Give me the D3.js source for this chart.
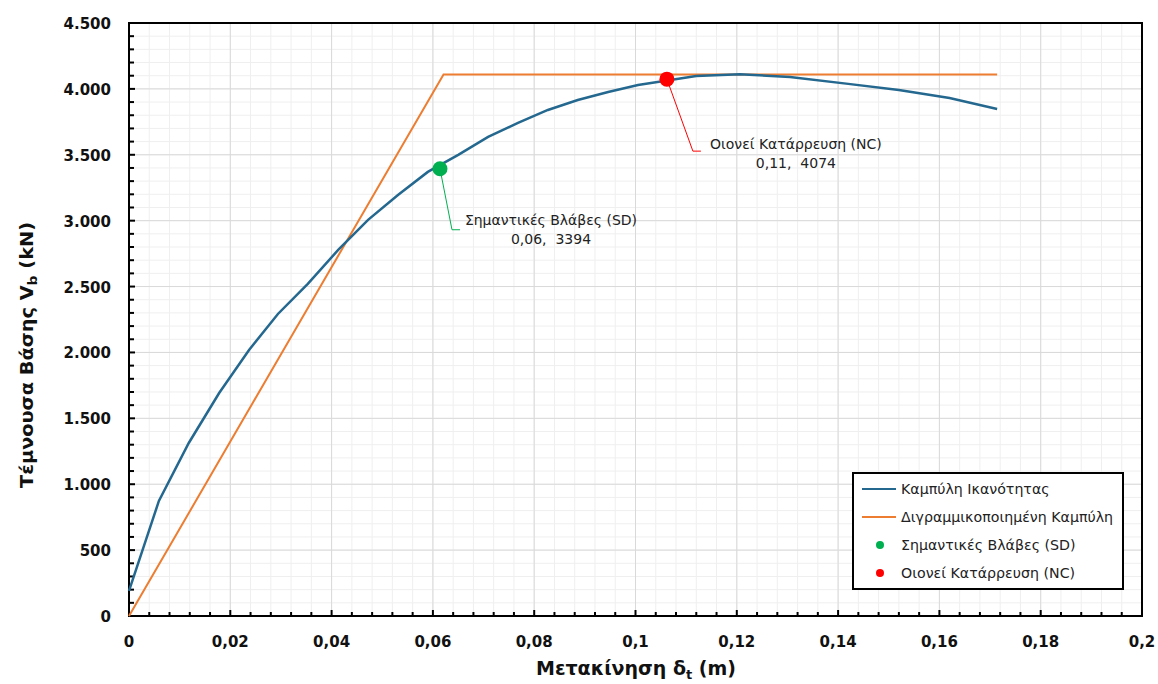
<!DOCTYPE html>
<html><head><meta charset="utf-8">
<script src="https://cdn.jsdelivr.net/npm/d3@7"></script>
<style>body{margin:0;background:#fff;}svg{display:block;} .pre{white-space:pre;}</style>
</head><body>
<svg id="c" width="1158" height="684"></svg>
<script>
// Data
const capX = [0, 0.0059, 0.0118, 0.0178, 0.0237, 0.0294, 0.0353, 0.0413, 0.0472, 0.0531, 0.059, 0.065, 0.0709, 0.0768, 0.0827, 0.0886, 0.0946, 0.1005, 0.112, 0.1206, 0.1305, 0.142, 0.152, 0.162, 0.1714];
const capY = [190, 873, 1313, 1692, 2019, 2292, 2520, 2778, 3006, 3195, 3370, 3499, 3636, 3742, 3840, 3916, 3977, 4030, 4097, 4112, 4090, 4038, 3992, 3931, 3848];
const bilX = [0, 0.0621, 0.1714];
const bilY = [0, 4110, 4110];
const sdPoint = [0.0614, 3394];
const ncPoint = [0.1062, 4074];
const sdLabel = ["Σημαντικές Βλάβες (SD)", "0,06,  3394"];
const ncLabel = ["Οιονεί Κατάρρευση (NC)", "0,11,  4074"];
const xTicks = [0, 0.02, 0.04, 0.06, 0.08, 0.1, 0.12, 0.14, 0.16, 0.18, 0.2];
const yTicks = [0, 500, 1000, 1500, 2000, 2500, 3000, 3500, 4000, 4500];
const legendNames = ["Καμπύλη Ικανότητας", "Διγραμμικοποιημένη Καμπύλη", "Σημαντικές Βλάβες (SD)", "Οιονεί Κατάρρευση (NC)"];
const colors = {cap: "#24688f", bil: "#ed7d31", sd: "#00b050", nc: "#ff0000"};

const svg = d3.select("#c");
const L = 129, R = 1142, T = 23, B = 616;
const x = d3.scaleLinear().domain([0, 0.2]).range([L, R]);
const y = d3.scaleLinear().domain([0, 4500]).range([B, T]);

// grid
const g = svg.append("g");
const xMinor = d3.range(0, 0.2001, 0.004);
const yMinor = d3.range(0, 4501, 100);
g.selectAll(".vm").data(xMinor).enter().append("line")
  .attr("x1", d => x(d)).attr("x2", d => x(d)).attr("y1", T).attr("y2", B)
  .attr("stroke", "#efefef").attr("stroke-width", 1);
g.selectAll(".hm").data(yMinor).enter().append("line")
  .attr("y1", d => y(d)).attr("y2", d => y(d)).attr("x1", L).attr("x2", R)
  .attr("stroke", "#efefef").attr("stroke-width", 1);
g.selectAll(".vM").data(xTicks).enter().append("line")
  .attr("x1", d => x(d)).attr("x2", d => x(d)).attr("y1", T).attr("y2", B)
  .attr("stroke", "#d9d9d9").attr("stroke-width", 1);
g.selectAll(".hM").data(yTicks).enter().append("line")
  .attr("y1", d => y(d)).attr("y2", d => y(d)).attr("x1", L).attr("x2", R)
  .attr("stroke", "#d9d9d9").attr("stroke-width", 1);

// frame
svg.append("rect").attr("x", L).attr("y", T).attr("width", R - L).attr("height", B - T)
  .attr("fill", "none").attr("stroke", "#000").attr("stroke-width", 2);

// ticks inside
svg.selectAll(".xtm").data(xMinor).enter().append("line")
  .attr("x1", d => x(d)).attr("x2", d => x(d)).attr("y1", B).attr("y2", d => B - (xTicks.some(t => Math.abs(t - d) < 1e-9) ? 6 : 4))
  .attr("stroke", "#000").attr("stroke-width", 2);
svg.selectAll(".ytm").data(yMinor).enter().append("line")
  .attr("y1", d => y(d)).attr("y2", d => y(d)).attr("x1", L).attr("x2", d => L + (d % 500 === 0 ? 6 : 5))
  .attr("stroke", "#000").attr("stroke-width", 2);

// tick labels
const fmtX = d => d === 0 ? "0" : String(+d.toFixed(2)).replace(".", ",");
const fmtY = d => d3.format(",")(d).replace(/,/g, ".");
svg.selectAll(".xl").data(xTicks).enter().append("text")
  .attr("x", d => x(d)).attr("y", 647).attr("text-anchor", "middle")
  .attr("font-family", "DejaVu Sans").attr("font-weight", "bold").attr("font-size", 15)
  .attr("fill", "#111").text(fmtX);
svg.selectAll(".yl").data(yTicks).enter().append("text")
  .attr("x", 111).attr("y", d => y(d) + 6).attr("text-anchor", "end")
  .attr("font-family", "DejaVu Sans").attr("font-weight", "bold").attr("font-size", 15)
  .attr("fill", "#111").text(fmtY);

// axis titles
const xt = svg.append("text").attr("x", 636).attr("y", 675).attr("text-anchor", "middle")
  .attr("font-family", "DejaVu Sans").attr("font-weight", "bold").attr("font-size", 19).attr("fill", "#111");
xt.append("tspan").text("Μετακίνηση δ");
xt.append("tspan").attr("font-size", 13).attr("dy", 4).text("t");
xt.append("tspan").attr("dy", -4).text(" (m)");
const yt = svg.append("text").attr("transform", "translate(33,355) rotate(-90)").attr("text-anchor", "middle")
  .attr("font-family", "DejaVu Sans")
  .attr("font-weight", "bold").attr("font-size", 18).attr("fill", "#111")
  .attr("textLength", 266).attr("lengthAdjust", "spacingAndGlyphs");
yt.append("tspan").text("Τέμνουσα Βάσης V");
yt.append("tspan").attr("font-size", 13).attr("dy", 4).text("b");
yt.append("tspan").attr("dy", -4).text(" (kN)");

// lines
const line = d3.line().x(d => x(d[0])).y(d => y(d[1]));
svg.append("path").datum(d3.zip(bilX, bilY)).attr("d", line)
  .attr("fill", "none").attr("stroke", colors.bil).attr("stroke-width", 2);
svg.append("path").datum(d3.zip(capX, capY)).attr("d", line)
  .attr("fill", "none").attr("stroke", colors.cap).attr("stroke-width", 2.5);

// annotations
function annotate(pt, color, dx, dy, lbl, tx, ty) {
  const px = x(pt[0]), py = y(pt[1]);
  svg.append("polyline")
    .attr("points", `${px},${py} ${px + dx},${py + dy} ${px + dx + 8},${py + dy}`)
    .attr("fill", "none").attr("stroke", color).attr("stroke-width", 1);
  svg.append("circle").attr("cx", px).attr("cy", py).attr("r", 7.5).attr("fill", color);
  svg.append("text").attr("class", "pre").attr("x", px + tx).attr("y", py + ty).attr("text-anchor", "middle")
    .attr("font-family", "DejaVu Sans").attr("font-size", 14).attr("fill", "#222").text(lbl[0]);
  svg.append("text").attr("class", "pre").attr("x", px + tx).attr("y", py + ty + 19).attr("text-anchor", "middle")
    .attr("font-family", "DejaVu Sans").attr("font-size", 14).attr("fill", "#222").text(lbl[1]);
}
annotate(sdPoint, colors.sd, 12, 61, sdLabel, 111, 56);
annotate(ncPoint, colors.nc, 26, 72, ncLabel, 129, 70);

// legend
const lg = svg.append("g");
lg.append("rect").attr("x", 853).attr("y", 473).attr("width", 270).attr("height", 116)
  .attr("fill", "#fff").attr("stroke", "#000").attr("stroke-width", 2);
const lc = [colors.cap, colors.bil, colors.sd, colors.nc];
legendNames.forEach((n, i) => {
  const yy = 489 + i * 28;
  if (i < 2) lg.append("line").attr("x1", 862).attr("x2", 896).attr("y1", yy).attr("y2", yy)
    .attr("stroke", lc[i]).attr("stroke-width", 2);
  else lg.append("circle").attr("cx", 880).attr("cy", yy).attr("r", 4).attr("fill", lc[i]);
  lg.append("text").attr("x", 901).attr("y", yy + 5).attr("font-family", "DejaVu Sans")
    .attr("font-size", 14.2).attr("fill", "#222").text(n);
});
</script>
</body></html>
